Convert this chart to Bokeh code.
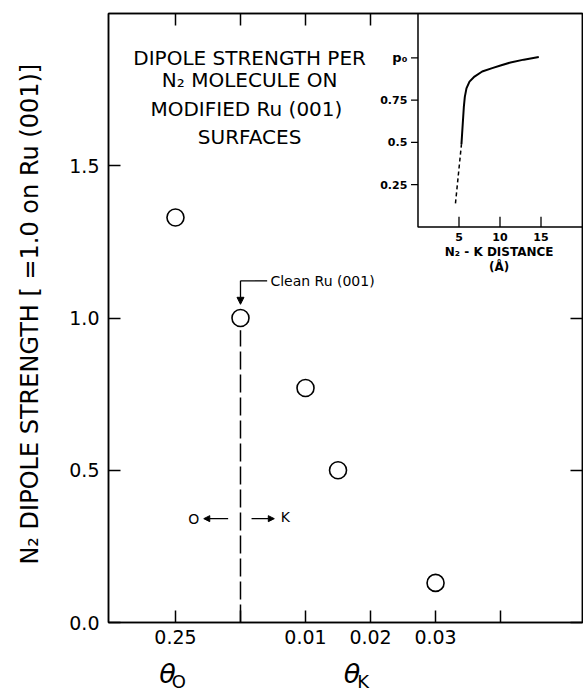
from bokeh.plotting import figure
from bokeh.models import Range1d, LinearAxis, FixedTicker, Arrow, NormalHead
from bokeh.core.properties import value
from bokeh.embed import file_html
from bokeh.resources import INLINE

# ---------------- data ----------------
theta_o = [0.25]
dip_o = [1.33]
dip_clean = [1.00]
theta_k = [0.01, 0.015, 0.03]
dip_k = [0.77, 0.50, 0.13]

o_tick_vals = [0.25]
o_tick_labels = ["0.25"]
k_tick_vals = [0.01, 0.02, 0.03, 0.04]
k_tick_labels = ["0.01", "0.02", "0.03", ""]
y_tick_vals = [0.0, 0.5, 1.0, 1.5]
y_tick_labels = ["0.0", "0.5", "1.0", "1.5"]

inset_dist = [5.30, 5.43, 5.59, 5.71, 5.91, 6.28, 6.89, 7.83, 9.05, 10.06, 11.28, 12.9, 14.73]
inset_p = [0.49, 0.59, 0.71, 0.77, 0.82, 0.86, 0.89, 0.92, 0.94, 0.955, 0.973, 0.99, 1.005]
inset_dash_dist = [4.57, 5.30]
inset_dash_p = [0.14, 0.49]
inset_x_ticks = [5, 10, 15]
inset_x_labels = ["5", "10", "15"]
inset_y_ticks = [0.25, 0.5, 0.75]
inset_y_labels = ["0.25", "0.5", "0.75"]
inset_p0 = [1.0]
inset_p0_label = ["p\u2080"]

title_lines = ["DIPOLE STRENGTH PER", "N\u2082 MOLECULE ON", "MODIFIED  Ru (001)", "SURFACES"]

# ------------- composite x scale (theta_O to the left, theta_K to the right) -------------
CLEAN = 2.0
def pos_o(t):
    return round(CLEAN - t / 0.25, 6)
def pos_k(t):
    return round(CLEAN + t / 0.01, 6)

FONT = "DejaVu Sans"

p = figure(width=583, height=694, x_range=Range1d(-0.03, 7.26), y_range=Range1d(0, 2.0),
           output_backend="svg", toolbar_location=None,
           min_border_left=108, min_border_right=1, min_border_top=13, min_border_bottom=72,
           x_axis_location=None, y_axis_location=None)
p.outline_line_color = "black"
p.outline_line_width = 1.5
p.background_fill_color = "white"
p.border_fill_color = "white"

bottom_ticks = [pos_o(t) for t in o_tick_vals] + [CLEAN] + [pos_k(t) for t in k_tick_vals]
bottom_labels = dict(zip(bottom_ticks, o_tick_labels + [""] + k_tick_labels))

def style_axis(ax):
    ax.axis_line_color = "black"
    ax.axis_line_width = 1.5
    ax.major_tick_in = 12
    ax.major_tick_out = 0
    ax.major_tick_line_width = 1.5
    ax.minor_tick_line_color = None
    ax.major_label_text_font = FONT
    ax.major_label_text_font_size = "19px"
    ax.major_label_text_color = "black"

xb = LinearAxis(ticker=FixedTicker(ticks=bottom_ticks), major_label_overrides=bottom_labels)
style_axis(xb)
xb.major_label_standoff = 7
p.add_layout(xb, "below")

# axis-name rows: theta and its subscript
theta_pos = [0.877, 3.715]
sub_pos = [1.05, 3.885]
xth = LinearAxis(ticker=FixedTicker(ticks=theta_pos),
                 major_label_overrides={t: "\u03b8" for t in theta_pos})
xth.axis_line_color = None
xth.major_tick_line_color = None
xth.minor_tick_line_color = None
xth.major_label_text_font = FONT
xth.major_label_text_font_size = "27px"
xth.major_label_text_font_style = "italic"
xth.major_label_text_color = "black"
xth.major_label_standoff = 5
p.add_layout(xth, "below")

xsub = LinearAxis(ticker=FixedTicker(ticks=sub_pos),
                  major_label_overrides=dict(zip(sub_pos, ["O", "K"])))
xsub.axis_line_color = None
xsub.major_tick_line_color = None
xsub.minor_tick_line_color = None
xsub.major_label_text_font = FONT
xsub.major_label_text_font_size = "18px"
xsub.major_label_text_color = "black"
xsub.major_label_standoff = -27
p.add_layout(xsub, "below")

xt = LinearAxis(ticker=FixedTicker(ticks=bottom_ticks[:4]),
                major_label_overrides={t: "" for t in bottom_ticks})
style_axis(xt)
xt.major_label_text_font_size = "0px"
xt.major_label_standoff = 0
p.add_layout(xt, "above")

yl = LinearAxis(ticker=FixedTicker(ticks=y_tick_vals),
                major_label_overrides=dict(zip(y_tick_vals, y_tick_labels)),
                axis_label="\u00a0\u00a0\u00a0\u00a0N\u2082  DIPOLE  STRENGTH  [ =1.0 on Ru (001)]")
style_axis(yl)
yl.major_label_standoff = 9
yl.axis_label_text_font = FONT
yl.axis_label_text_font_size = "24px"
yl.axis_label_text_font_style = "normal"
yl.axis_label_text_color = "black"
yl.axis_label_standoff = 22
p.add_layout(yl, "left")

yr = LinearAxis(ticker=FixedTicker(ticks=y_tick_vals[:3]),
                major_label_overrides={t: "" for t in y_tick_vals})
style_axis(yr)
yr.major_label_text_font_size = "0px"
yr.major_label_standoff = 0
p.add_layout(yr, "right")

p.xgrid.visible = False
p.ygrid.visible = False

# ------------- main data -------------
x_main = [pos_o(t) for t in theta_o] + [CLEAN] + [pos_k(t) for t in theta_k]
y_main = dip_o + dip_clean + dip_k
p.scatter(x_main, y_main, marker="circle", size=17, fill_color="white",
          line_color="black", line_width=1.6)

# dashed divider under clean Ru(001)
p.segment(x0=[CLEAN], y0=[0.0], x1=[CLEAN], y1=[0.96], line_color="black",
          line_width=1.5, line_dash="18 5")

# "Clean Ru (001)" pointer
p.segment(x0=[CLEAN], y0=[1.122], x1=[2.41], y1=[1.122], line_color="black", line_width=1.3)
p.add_layout(Arrow(end=NormalHead(size=7, fill_color="black", line_color="black"),
                   x_start=CLEAN, y_start=1.122, x_end=CLEAN, y_end=1.045,
                   line_width=1.3, line_color="black"))
p.text(x=[2.46], y=[1.122], text=["Clean Ru (001)"], text_font=value(FONT),
       text_font_size="14px", text_align="left", text_baseline="middle", text_color="black")

# O <-  -> K arrows
p.add_layout(Arrow(end=NormalHead(size=6, fill_color="black", line_color="black"),
                   x_start=1.81, y_start=0.341, x_end=1.435, y_end=0.341,
                   line_width=1.3, line_color="black"))
p.add_layout(Arrow(end=NormalHead(size=6, fill_color="black", line_color="black"),
                   x_start=2.17, y_start=0.341, x_end=2.52, y_end=0.341,
                   line_width=1.3, line_color="black"))
p.text(x=[1.28, 2.69], y=[0.341, 0.347], text=["O", "K"], text_font=value(FONT),
       text_font_size="14px", text_align="center", text_baseline="middle", text_color="black")

# title block
p.text(x=[2.14] * 4, y=[1.855, 1.78, 1.688, 1.595], text=title_lines, text_font=value(FONT),
       text_font_size="20px", text_align="center", text_baseline="middle", text_color="black")

# ------------- inset (own ranges mapped to the upper-right corner) -------------
p.extra_x_ranges = {"ix": Range1d(-37.74, 20.06)}
p.extra_y_ranges = {"iy": Range1d(-2.340, 1.263)}
IX = dict(x_range_name="ix", y_range_name="iy")

p.quad(left=[0], right=[20.06], bottom=[0], top=[1.263], fill_color="white",
       line_color="black", line_width=1.5, **IX)
p.line(inset_dist, inset_p, line_color="black", line_width=2, **IX)
p.line(inset_dash_dist, inset_dash_p, line_color="black", line_width=1.5, line_dash="4 3", **IX)

# inset ticks
yt_all = inset_y_ticks + inset_p0
p.segment(x0=[0] * len(yt_all), y0=yt_all, x1=[-0.85] * len(yt_all), y1=yt_all,
          line_color="black", line_width=1.3, **IX)
p.segment(x0=inset_x_ticks, y0=[0] * 3, x1=inset_x_ticks, y1=[0.06] * 3,
          line_color="black", line_width=1.3, **IX)

p.text(x=[-1.3] * 3, y=inset_y_ticks, text=inset_y_labels, text_font=value(FONT),
       text_font_size="11px", text_font_style="bold", text_align="right",
       text_baseline="middle", text_color="black", **IX)
p.text(x=[-1.3], y=inset_p0, text=inset_p0_label, text_font=value(FONT),
       text_font_size="13px", text_font_style="bold", text_align="right",
       text_baseline="middle", text_color="black", **IX)
p.text(x=inset_x_ticks, y=[-0.06] * 3, text=inset_x_labels, text_font=value(FONT),
       text_font_size="11px", text_font_style="bold", text_align="center",
       text_baseline="middle", text_color="black", **IX)
p.text(x=[9.9, 9.9], y=[-0.149, -0.238], text=["N\u2082 - K DISTANCE", "(\u00c5)"],
       text_font=value(FONT), text_font_size="12px", text_font_style="bold",
       text_align="center", text_baseline="middle", text_color="black", **IX)

open("out.html", "w").write(file_html(p, INLINE))
